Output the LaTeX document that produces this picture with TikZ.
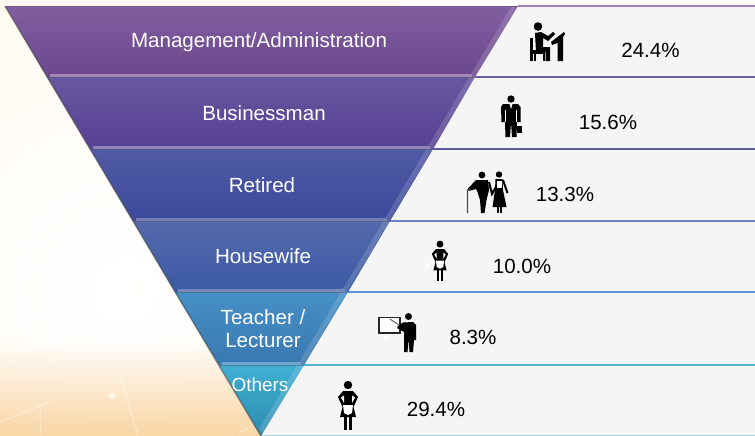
\documentclass[tikz,border=0pt]{standalone}
\usepackage{fontspec}
\usetikzlibrary{fadings}
\setmainfont{Liberation Sans}
\definecolor{cream}{RGB}{255,250,241}
\definecolor{glow}{RGB}{250,214,165}
\tikzset{
  band/.style={shading=axis,shading angle=0},
  bevel/.style={line width=0.05cm,opacity=0.9},
  rowline/.style={line width=0.025cm},
  spark/.style={white,line width=0.025cm,opacity=0.35},
  bandlabel/.style={text=white,font=\fontsize{11.7}{13.2}\selectfont,align=center,inner sep=0pt},
  share/.style={text=black,font=\fontsize{11.7}{14}\selectfont,inner sep=0pt},
  housewife/.pic={
    \fill (0,5) circle (4.2);
    \fill (-5,11) -- (5,11) -- (10,17) -- (5.5,27) -- (8,37) -- (-8,37) -- (-5.5,27) -- (-10,17) -- cycle;
    \fill[white] (-7,17.5) -- (-4,15.5) -- (-4,23) -- cycle;
    \fill[white] (7,17.5) -- (4,15.5) -- (4,23) -- cycle;
    \fill[white] (-5,25) -- (5,25) -- (4,33) -- (0,35) -- (-4,33) -- cycle;
    \fill (-4,36) rectangle (-0.8,50);
    \fill (0.8,36) rectangle (4,50);
  }
}
\begin{document}
\begin{tikzpicture}[x=0.02cm,y=-0.02cm]
\useasboundingbox (0,0) rectangle (755,436);

% Background
\fill[white] (0,0) rectangle (755,436);
\fill[cream] (0,0) rectangle (400,6);
\begin{scope}
\clip (0,6) rectangle (262,436);
\fill[cream] (0,6) rectangle (262,436);
\shade[inner color=white,outer color=cream] (125,290) circle (340);
\fill[glow,path fading=north] (0,340) rectangle (262,436);
\draw[spark] (118,370) -- (138,436); % Faint lines at the foot
\draw[spark] (0,422) -- (50,402);
\draw[spark] (40,405) -- (41,436);
\draw[spark] (238,434) -- (252,426);
\fill[white,opacity=0.6] (112,396) circle (3);
\end{scope}
\fill[black!4] (518,6) -- (755,6) -- (755,436) -- (261,436) -- cycle;

% Lines to the right of the funnel
\draw[rowline,color={rgb,255:red,160;green,130;blue,190}] (518,6) -- (755,6);
\draw[rowline,color={rgb,255:red,105;green,95;blue,165}] (475,77) -- (755,77);
\draw[rowline,color={rgb,255:red,90;green,90;blue,165}] (433,149) -- (755,149);
\draw[rowline,color={rgb,255:red,110;green,130;blue,195}] (390,221) -- (755,221);
\draw[rowline,color={rgb,255:red,85;green,150;blue,210}] (348,292) -- (755,292);
\draw[rowline,color={rgb,255:red,85;green,180;blue,210}] (304,365) -- (755,365);
\draw[rowline,color={rgb,255:red,165;green,215;blue,220}] (261,435.5) -- (755,435.5);

% Funnel bands
\definecolor{bandA}{RGB}{128,94,160}
\definecolor{bandAb}{RGB}{108,72,140}
\definecolor{bandB}{RGB}{102,88,160}
\definecolor{bandBb}{RGB}{88,64,148}
\definecolor{bandC}{RGB}{80,90,165}
\definecolor{bandCb}{RGB}{60,74,156}
\definecolor{bandD}{RGB}{84,104,172}
\definecolor{bandDb}{RGB}{59,91,165}
\definecolor{bandE}{RGB}{70,144,200}
\definecolor{bandEb}{RGB}{58,120,176}
\definecolor{bandF}{RGB}{63,176,212}
\definecolor{bandFb}{RGB}{45,140,175}
\shade[band,top color=bandA,bottom color=bandAb] (5,6) -- (518,6) -- (475,77) -- (47,77) -- cycle;
\shade[band,top color=bandB,bottom color=bandBb] (47,77) -- (475,77) -- (433,149) -- (90,149) -- cycle;
\shade[band,top color=bandC,bottom color=bandCb] (90,149) -- (433,149) -- (390,221) -- (133,221) -- cycle;
\shade[band,top color=bandD,bottom color=bandDb] (133,221) -- (390,221) -- (348,292) -- (175,292) -- cycle;
\shade[band,top color=bandE,bottom color=bandEb] (175,292) -- (348,292) -- (304,365) -- (219,365) -- cycle;
\shade[band,top color=bandF,bottom color=bandFb] (219,365) -- (304,365) -- (261,436) -- cycle;

% Light edge on the right, grey edge on the left
\draw[line width=0.1cm,white,opacity=0.14] (514,7) -- (261,431);
\draw[line width=0.03cm,black!70,opacity=0.6] (5,6) -- (261,436);

% Lighter strips at the foot of each band
\draw[bevel,white!30!bandA] (50,75.5) -- (472,75.5);
\draw[bevel,white!30!bandB] (93,147.5) -- (430,147.5);
\draw[bevel,white!25!bandC] (136,219.5) -- (387,219.5);
\draw[bevel,white!25!bandD] (178,290.5) -- (345,290.5);
\draw[bevel,white!25!bandE] (222,363.5) -- (301,363.5);

% Dark line under each strip
\draw[line width=0.02cm,black!65,opacity=0.5] (5,6) -- (518,6);
\draw[line width=0.02cm,black!65,opacity=0.5] (47,77.5) -- (475,77.5);
\draw[line width=0.02cm,black!65,opacity=0.5] (90,149.5) -- (433,149.5);
\draw[line width=0.02cm,black!65,opacity=0.5] (133,221.5) -- (390,221.5);
\draw[line width=0.02cm,black!65,opacity=0.5] (175,292.5) -- (348,292.5);
\draw[line width=0.02cm,black!65,opacity=0.5] (219,365.5) -- (304,365.5);

% Labels in the funnel
\node[bandlabel] (management) at (259,42.5) {Management/Administration};
\node[bandlabel] (businessman) at (264,113) {Businessman};
\node[bandlabel] (retired) at (262,185) {Retired};
\node[bandlabel] (housewife) at (263,256) {Housewife};
\node[bandlabel] (teacher) at (263,329) {Teacher /\\Lecturer};
\node[bandlabel,font=\fontsize{10.8}{13}\selectfont] (others) at (260,385) {Others};

% Percentages
\node[share] (managementshare) at (650.5,50) {24.4\%};
\node[share] (businessmanshare) at (608,122) {15.6\%};
\node[share] (retiredshare) at (565,194) {13.3\%};
\node[share] (housewifeshare) at (522,266) {10.0\%};
\node[share] (teachershare) at (473,337) {8.3\%};
\node[share] (othersshare) at (436,409) {29.4\%};

% Specks on the panel
\fill[white] (427,265) circle (2);
\fill[white] (385,337) circle (2);

% Person at a desk
\fill (538,26.5) circle (4.3);
\fill (530,38) rectangle (532.5,61); % Chair back
\fill (530,50) rectangle (545,53.5);
\fill (534,53) rectangle (536,61);
\fill (542.5,53) rectangle (545,61);
\fill (535,33) -- (541,32) -- (548,36) -- (553,32) -- (555,34) -- (548,41) -- (543,38) -- (543,47) -- (550,47) -- (550,61) -- (545.5,61) -- (545.5,52) -- (536,52) -- cycle;
\fill (551,42) -- (564,32) -- (565,34) -- (563,37) -- (563,61) -- (557.5,61) -- (557.5,43) -- (552,45) -- cycle; % Desk

% Businessman
\fill (511,99) circle (3.7);
\fill (503,104) -- (518,104) -- (520.5,107) -- (520.5,122) -- (517,122) -- (516.5,137) -- (512,137) -- (511,122) -- (510,137) -- (505.5,137) -- (505,122) -- (501.5,122) -- (501,107) -- cycle;
\fill[white] (509.5,104) -- (512.5,104) -- (511,109) -- cycle;
\draw[white,line width=0.015cm] (505.2,110) -- (505.2,122);
\draw[white,line width=0.015cm] (516.8,110) -- (516.8,122);
\fill (517,125.5) rectangle (522,133); % Briefcase

% Retired couple
\fill (482,175) circle (3.4);
\fill (476,180) -- (488,180) -- (489,190) -- (486.5,200) -- (484.5,213) -- (481,213) -- (480,200) -- (477.5,192) -- (476,189) -- (468.5,191) -- (468,188.5) -- cycle;
\draw[line width=0.025cm,black!70] (467.5,213) -- (467.5,190) -- (470,189); % Cane
\draw[line width=0.04cm] (489,182) -- (492,194) -- (496,187);
\fill (499,174.5) circle (3.2);
\fill (495.5,179) -- (502.5,179) -- (503,190) -- (506.5,207) -- (492.5,207) -- (495,190) -- cycle;
\fill[white] (496.5,180.5) rectangle (501.5,188);
\draw[line width=0.04cm] (503,180) -- (507.5,193);
\fill (497,206) rectangle (499.2,213);
\fill (499.8,206) rectangle (502,213);

% Housewife
\pic[scale=0.82] at (440,240) {housewife};

% Teacher at a board
\fill[white] (379,317.5) rectangle (400,333);
\draw[line width=0.03cm,black!85] (379,317.5) rectangle (400,333);
\draw[line width=0.02cm,black!60] (390,319) -- (402,327);
\fill (408.5,316.5) circle (3.5);
\fill (403,322.5) -- (413,322) -- (416,325) -- (416,340) -- (414,340) -- (413,352) -- (409.5,352) -- (408.5,339) -- (407.5,352) -- (404,352) -- (404,332) -- (397,328) -- (398,326) -- cycle;

% Others
\pic at (348,380) {housewife};

\end{tikzpicture}
\end{document}
